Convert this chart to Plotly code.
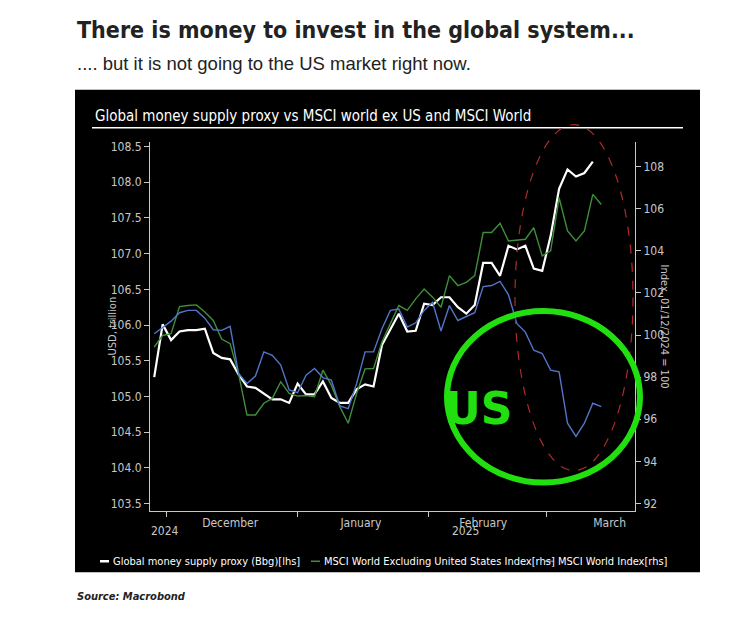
import pandas as pd
import plotly.graph_objects as go

dates = pd.date_range("2024-11-28", periods=54, freq="2D")

money_supply = [105.27, 106.01, 105.79, 105.91, 105.93, 105.93, 105.95, 105.61, 105.54, 105.52,
                105.31, 105.14, 105.12, 105.04, 104.96, 104.96, 104.91, 105.18, 105.03, 105.03,
                105.21, 104.98, 104.91, 104.91, 105.10, 105.17, 105.14, 105.72, 105.95, 106.16,
                105.91, 105.92, 106.30, 106.28, 106.39, 106.39, 106.25, 106.16, 106.28, 106.87,
                106.87, 106.69, 107.11, 107.06, 107.11, 106.79, 106.76, 107.25, 107.91, 108.18,
                108.08, 108.13, 108.29, None]
msci_ex_us = [99.43, 99.98, 100.06, 101.35, 101.40, 101.43, 101.09, 100.69, 99.81, 99.59,
              98.17, 96.20, 96.20, 96.76, 96.99, 97.78, 97.23, 97.10, 97.13, 97.07,
              98.33, 97.62, 96.60, 95.81, 97.23, 98.39, 98.41, 99.67, 100.54, 101.40,
              101.17, 101.72, 102.19, 101.80, 101.32, 102.82, 102.35, 102.50, 102.82, 104.87,
              104.87, 105.31, 104.47, 104.50, 104.55, 105.10, 103.76, 104.00, 106.52, 104.95,
              104.47, 104.95, 106.68, 106.20]
msci_world = [100.06, 100.38, 100.66, 101.06, 101.17, 101.17, 100.80, 100.25, 100.22, 100.41,
              98.17, 97.70, 98.05, 99.20, 99.04, 98.57, 97.39, 97.26, 98.09, 98.41,
              97.98, 97.86, 96.63, 96.50, 97.70, 99.20, 99.20, 100.30, 101.17, 101.23,
              100.38, 100.58, 101.17, 101.56, 100.19, 101.40, 100.69, 100.88, 101.06, 102.30,
              102.35, 102.55, 101.91, 100.54, 100.14, 99.28, 99.12, 98.33, 98.25, 95.81,
              95.18, 95.81, 96.76, 96.60]

series_names = ["Global money supply proxy (Bbg)[lhs]",
                "MSCI World Excluding United States Index[rhs]",
                "MSCI World Index[rhs]"]
series_colors = ["white", "#3f8f3a", "#5275c9"]

W, H = 753, 637
OFF = 8  # page body margin
def px(x): return (x - OFF) / W
def py(y): return 1 - (y - OFF) / H

FONT = "DejaVu Sans Condensed, DejaVu Sans, sans-serif"
GRAY = "#c8c8c8"

fig = go.Figure()
fig.add_trace(go.Scatter(x=dates, y=money_supply, name=series_names[0],
                         line=dict(color=series_colors[0], width=2.2), yaxis="y"))
fig.add_trace(go.Scatter(x=dates, y=msci_ex_us, name=series_names[1],
                         line=dict(color=series_colors[1], width=1.4), yaxis="y2"))
fig.add_trace(go.Scatter(x=dates, y=msci_world, name=series_names[2],
                         line=dict(color=series_colors[2], width=1.4), yaxis="y2"))

shapes = [
    dict(type="rect", xref="paper", yref="paper", x0=px(75), x1=px(700), y0=py(572), y1=py(88),
         fillcolor="black", line=dict(width=0), layer="below"),
    dict(type="line", xref="paper", yref="paper", x0=px(92), x1=px(683), y0=py(126), y1=py(126),
         line=dict(color="white", width=1.5)),
    dict(type="circle", xref="paper", yref="paper", x0=px(515), x1=px(633), y0=py(470), y1=py(123),
         line=dict(color="#b02a2a", width=1.2, dash="dash")),
    dict(type="circle", xref="paper", yref="paper", x0=px(447), x1=px(640), y0=py(482), y1=py(310),
         line=dict(color="#22e010", width=6)),
]

annotations = [
    dict(text="There is money to invest in the global system...", x=px(75), y=py(28), xref="paper", yref="paper",
         xanchor="left", yanchor="middle", showarrow=False,
         font=dict(family="DejaVu Sans Condensed, DejaVu Sans, sans-serif", size=23, color="#222222", weight="bold")),
    dict(text=".... but it is not going to the US market right now.", x=px(75), y=py(62), xref="paper", yref="paper",
         xanchor="left", yanchor="middle", showarrow=False,
         font=dict(family="Liberation Sans, Arial, sans-serif", size=18.5, color="#222222")),
    dict(text="Global money supply proxy vs MSCI world ex US and MSCI World", x=px(93), y=py(114), xref="paper", yref="paper",
         xanchor="left", yanchor="middle", showarrow=False, font=dict(family=FONT, size=15, color="white")),
    dict(text="US", x=px(514), y=py(408), xref="paper", yref="paper", showarrow=False,
         font=dict(family="DejaVu Sans, sans-serif", size=44, color="#22e010", weight="bold")),
    dict(text="USD, trillion", x=px(104), y=py(325), xref="paper", yref="paper", textangle=-90, showarrow=False,
         font=dict(family=FONT, size=11, color=GRAY)),
    dict(text="Index, 01/12/2024 = 100", x=px(673), y=py(325), xref="paper", yref="paper", textangle=90, showarrow=False,
         font=dict(family=FONT, size=11, color=GRAY)),
    dict(text="2024", x=px(165), y=py(540), xref="paper", yref="paper", xanchor="center", showarrow=False,
         font=dict(family=FONT, size=12, color=GRAY)),
    dict(text="2025", x=px(465), y=py(540), xref="paper", yref="paper", xanchor="center", showarrow=False,
         font=dict(family=FONT, size=12, color=GRAY)),
    dict(text="<i><b>Source: Macrobond</b></i>", x=px(75), y=py(605), xref="paper", yref="paper",
         xanchor="left", showarrow=False,
         font=dict(family="DejaVu Sans Condensed, DejaVu Sans, sans-serif", size=11, color="#222222")),
]

# custom legend row
legend_x = [100, 311, 545]
for name, color, lx in zip(series_names, series_colors, legend_x):
    shapes.append(dict(type="line", xref="paper", yref="paper", x0=px(lx), x1=px(lx + 9),
                       y0=py(561), y1=py(561), line=dict(color=color, width=2.5 if color == "white" else 1.5)))
    annotations.append(dict(text=name, x=px(lx + 11), y=py(561), xref="paper", yref="paper",
                            xanchor="left", yanchor="middle", showarrow=False,
                            font=dict(family=FONT, size=11, color="white")))

fig.update_layout(
    width=W, height=H, margin=dict(l=0, r=0, t=0, b=0),
    paper_bgcolor="white", plot_bgcolor="black",
    font=dict(family=FONT, color=GRAY, size=12),
    shapes=shapes, annotations=annotations,
    showlegend=False,
    xaxis=dict(domain=[px(150), px(635)], range=["2024-11-27", "2025-03-22"],
               tickvals=["2024-12-16", "2025-01-16", "2025-02-14", "2025-03-16"],
               ticktext=["December", "January", "February", "March"], ticks="",
               minor=dict(ticks="outside", tick0="2024-12-01", dtick="M1", ticklen=5, tickcolor=GRAY),
               showgrid=False, showline=True, linecolor=GRAY, tickfont=dict(size=12, color=GRAY), anchor="y"),
    yaxis=dict(domain=[py(511), py(140)], range=[103.39, 108.57], tickvals=[103.5 + 0.5 * i for i in range(11)],
               tickformat=".1f", ticks="outside", ticklen=5, tickcolor=GRAY, showgrid=False, zeroline=False,
               showline=True, linecolor=GRAY, tickfont=dict(size=12, color=GRAY)),
    yaxis2=dict(overlaying="y", side="right", anchor="x", range=[91.62, 109.19], tickvals=list(range(92, 109, 2)),
                ticks="outside", ticklen=5, tickcolor=GRAY, showgrid=False, zeroline=False,
                showline=True, linecolor=GRAY, tickfont=dict(size=12, color=GRAY)),
)

fig.write_html("out.html")
